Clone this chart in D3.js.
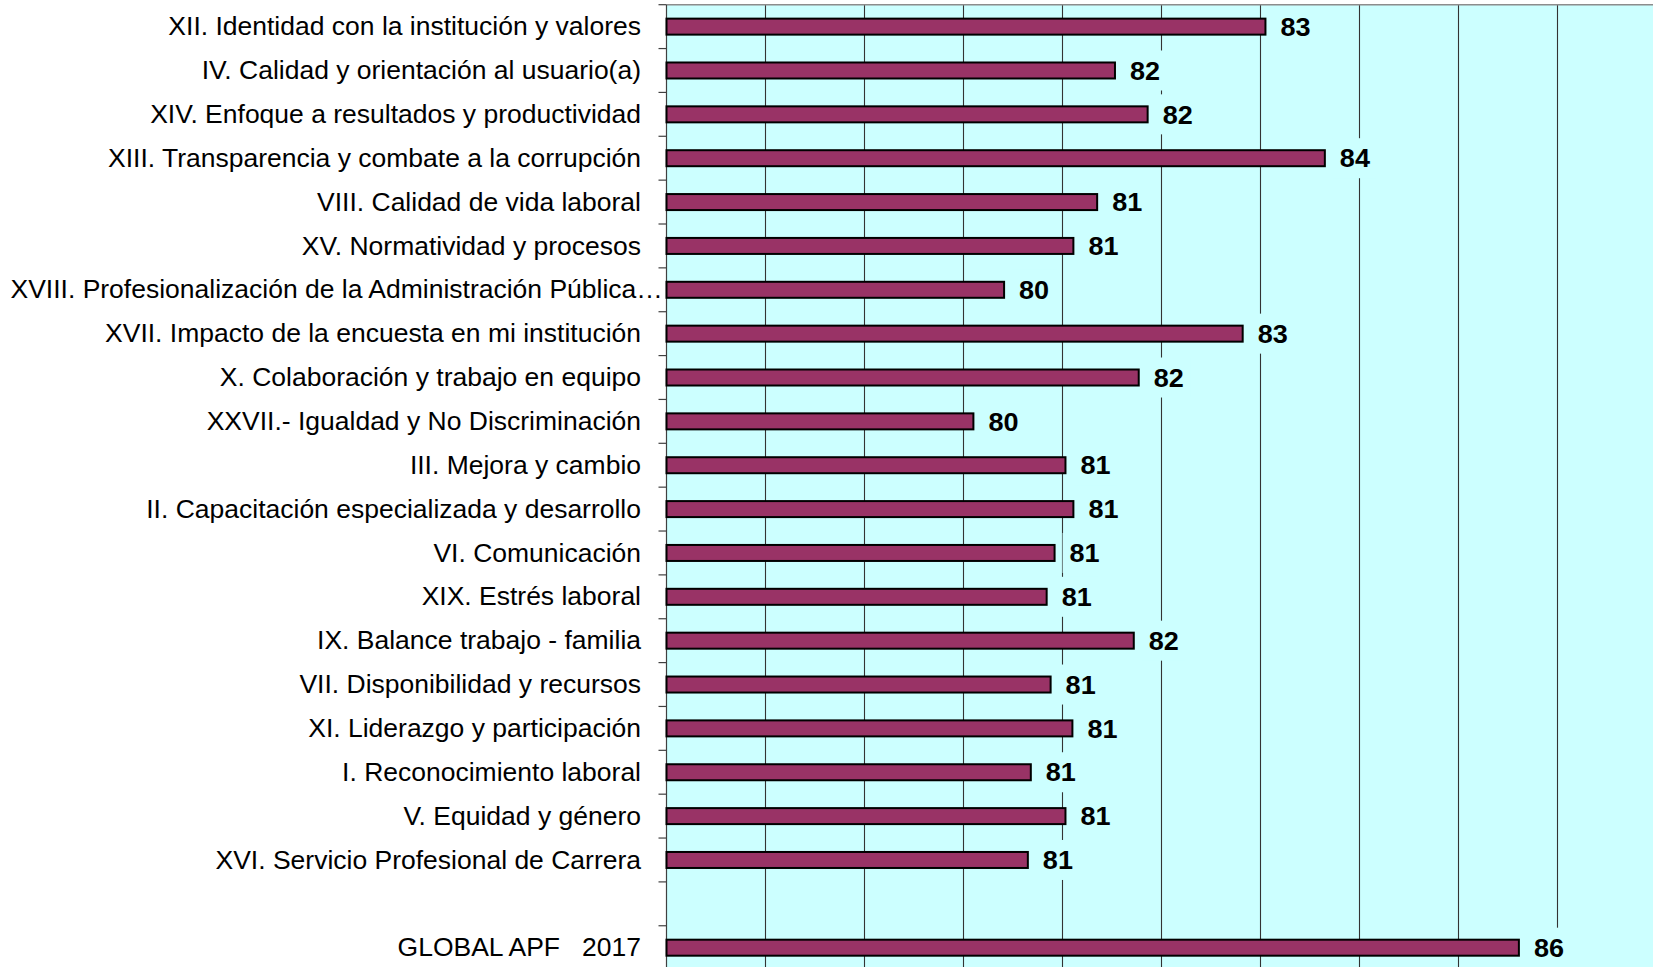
<!DOCTYPE html>
<html>
<head>
<meta charset="utf-8">
<script src="https://cdn.jsdelivr.net/npm/d3@7"></script>
<style>
	body { margin: 0; background: #fff; }
	svg { display: block; font-family: "Liberation Sans", Arial, sans-serif; }
</style>
</head>
<body>
<div id="chart-area"></div>
<script>
// categories top to bottom, blank row before the global figure
var categories = [
	'XII. Identidad con la institución y valores',
	'IV. Calidad y orientación al usuario(a)',
	'XIV. Enfoque a resultados y productividad',
	'XIII. Transparencia y combate a la corrupción',
	'VIII. Calidad de vida laboral',
	'XV. Normatividad y procesos',
	'XVIII. Profesionalización de la Administración Pública…',
	'XVII. Impacto de la encuesta en mi institución',
	'X. Colaboración y trabajo en equipo',
	'XXVII.- Igualdad y No Discriminación',
	'III. Mejora y cambio',
	'II. Capacitación especializada y desarrollo',
	'VI. Comunicación',
	'XIX. Estrés laboral',
	'IX. Balance trabajo - familia',
	'VII. Disponibilidad y recursos',
	'XI. Liderazgo y participación',
	'I. Reconocimiento laboral',
	'V. Equidad y género',
	'XVI. Servicio Profesional de Carrera',
	'',
	'GLOBAL APF   2017'
];

var values = [83.05, 81.53, 81.86, 83.65, 81.35, 81.11, 80.41, 82.82, 81.77, 80.10,
	81.03, 81.11, 80.92, 80.84, 81.72, 80.88, 81.10, 80.68, 81.03, 80.65, null, 85.61];

var valueLabels = ['83', '82', '82', '84', '81', '81', '80', '83', '82', '80',
	'81', '81', '81', '81', '82', '81', '81', '81', '81', '81', '', '86'];

var xDomain = [77, 87];

var width = 1653, height = 967;
var plot = { left: 666.5, top: 4.7, step: 43.86 };
var stretch = 1.06; // text in the original is a little wider than Arial

var svg = d3.select('#chart-area').append('svg')
	.attr('width', width)
	.attr('height', height);

var x = d3.scaleLinear().domain(xDomain).range([plot.left, plot.left + 990]);
var y = d3.scaleBand().domain(d3.range(categories.length))
	.range([plot.top, plot.top + categories.length * plot.step]);

var plotBottom = plot.top + categories.length * plot.step;

// plot background
svg.append('rect')
	.attr('x', plot.left)
	.attr('y', plot.top)
	.attr('width', x.range()[1] - plot.left)
	.attr('height', plotBottom - plot.top)
	.attr('fill', '#ccffff');

// vertical gridlines
svg.append('g').selectAll('line')
	.data(x.ticks(10).filter(d => d > xDomain[0]))
	.enter().append('line')
		.attr('x1', d => x(d)).attr('x2', d => x(d))
		.attr('y1', plot.top).attr('y2', plotBottom)
		.attr('stroke', '#333')
		.attr('stroke-width', 1.1);

// top border
svg.append('line')
	.attr('x1', plot.left).attr('x2', width)
	.attr('y1', plot.top).attr('y2', plot.top)
	.attr('stroke', '#8c8c8c')
	.attr('stroke-width', 1.6);

// category axis with ticks between categories
var axis = svg.append('g').attr('stroke', '#404040').attr('stroke-width', 1.2);
axis.append('line')
	.attr('x1', plot.left).attr('x2', plot.left)
	.attr('y1', plot.top).attr('y2', plotBottom);
axis.selectAll('.tick')
	.data(d3.range(categories.length + 1))
	.enter().append('line')
		.attr('class', 'tick')
		.attr('x1', plot.left - 8).attr('x2', plot.left)
		.attr('y1', d => plot.top + d * y.step())
		.attr('y2', d => plot.top + d * y.step());

var rows = categories.map((c, i) => ({ name: c, value: values[i], label: valueLabels[i], i: i }));
var barH = 16;

// bars
svg.append('g').selectAll('rect')
	.data(rows.filter(d => d.value != null))
	.enter().append('rect')
		.attr('x', x(xDomain[0]))
		.attr('y', d => y(d.i) + y.bandwidth() / 2 - barH / 2)
		.attr('width', d => x(d.value) - x(xDomain[0]))
		.attr('height', barH)
		.attr('fill', '#993366')
		.attr('stroke', '#000')
		.attr('stroke-width', 2);

// value labels on a cyan box that hides the gridlines
var vl = svg.append('g').selectAll('g')
	.data(rows.filter(d => d.value != null))
	.enter().append('g')
		.attr('transform', d => `translate(${x(d.value) + 15}, ${y(d.i) + y.bandwidth() / 2})`);

vl.append('rect')
	.attr('x', -7)
	.attr('y', -20)
	.attr('width', 44)
	.attr('height', 40)
	.attr('fill', '#ccffff');

vl.append('text')
	.attr('transform', `translate(0, 9.2) scale(${stretch}, 1)`)
	.attr('font-size', '25.5px')
	.attr('font-weight', 'bold')
	.attr('fill', '#000')
	.text(d => d.label);

// category labels, right aligned; too long ones start at the left edge
svg.append('g').selectAll('text')
	.data(rows)
	.enter().append('text')
		.attr('transform', d => `translate(641, ${y(d.i) + y.bandwidth() / 2 + 8.6}) scale(${stretch}, 1)`)
		.attr('text-anchor', 'end')
		.attr('font-size', '25px')
		.attr('fill', '#000')
		.style('white-space', 'pre')
		.text(d => d.name)
		.each(function(d) {
			var w = this.getComputedTextLength() * stretch;
			if (641 - w < 10) {
				d3.select(this)
					.attr('text-anchor', 'start')
					.attr('transform', `translate(10.5, ${y(d.i) + y.bandwidth() / 2 + 8.6}) scale(${stretch}, 1)`);
			}
		});
</script>
</body>
</html>
